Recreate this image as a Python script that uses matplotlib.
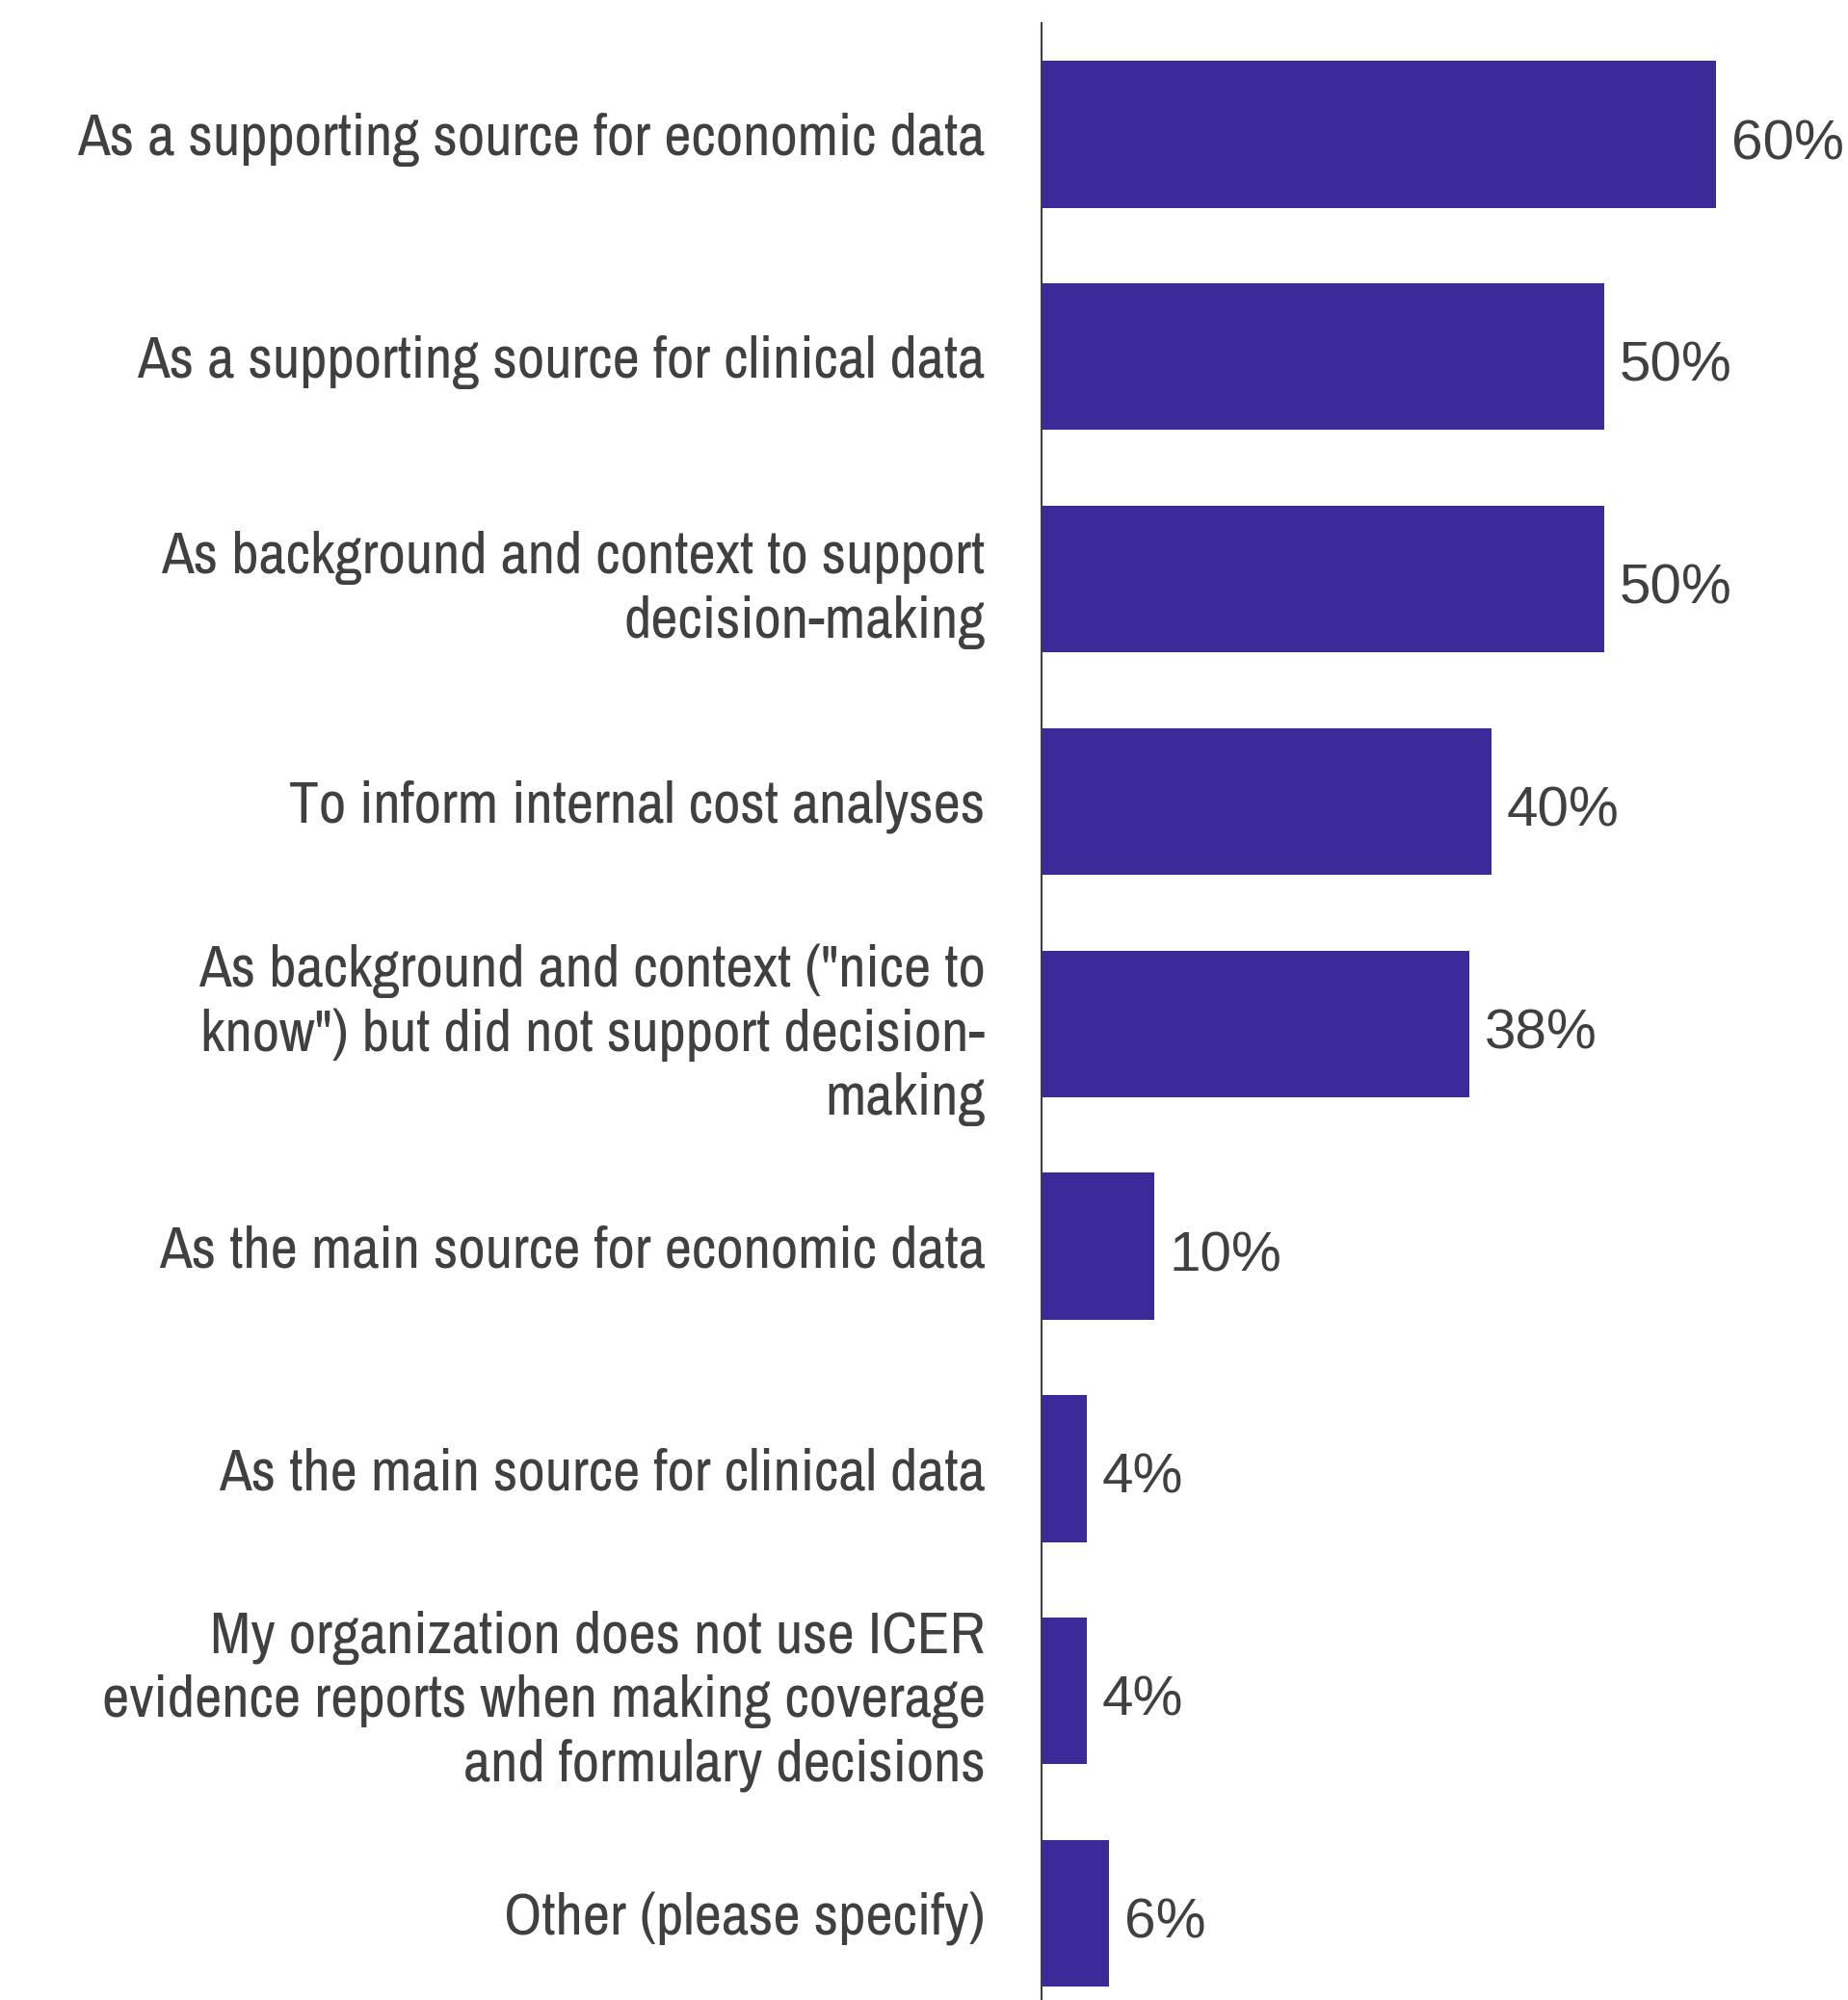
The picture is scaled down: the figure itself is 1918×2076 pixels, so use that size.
import matplotlib
matplotlib.use("Agg")
import matplotlib.pyplot as plt

# Survey responses: how ICER evidence reports are used
categories = [
    "As a supporting source for economic data",
    "As a supporting source for clinical data",
    "As background and context to support\ndecision-making",
    "To inform internal cost analyses",
    "As background and context (\"nice to\nknow\") but did not support decision-\nmaking",
    "As the main source for economic data",
    "As the main source for clinical data",
    "My organization does not use ICER\nevidence reports when making coverage\nand formulary decisions",
    "Other (please specify)",
]
values = [60, 50, 50, 40, 38, 10, 4, 4, 6]
value_labels = ["60%", "50%", "50%", "40%", "38%", "10%", "4%", "4%", "6%"]

bar_color = "#3C2A98"
text_color = "#404040"

fig = plt.figure(figsize=(19.18, 20.76), dpi=100)
ax = fig.add_axes([0.5636, 0.0, 0.4364, 0.98844])

pos = list(range(len(categories)))
ax.barh(pos, values, height=0.66, color=bar_color, edgecolor="none")

ax.set_xlim(0, 71.7)
ax.set_ylim(8.39, -0.50)

for p, v, lab in zip(pos, values, value_labels):
    ax.text(v + 1.35, p + 0.02, lab, va="center_baseline", ha="left", fontsize=42,
            color=text_color, family=["Liberation Sans", "DejaVu Sans"])

ax.set_yticks(pos)
ax.set_yticklabels(categories, fontsize=44.5, color=text_color,
                   family=["Archivo Narrow", "Liberation Sans", "DejaVu Sans"],
                   linespacing=1.24)
ax.tick_params(axis="y", length=0, pad=42)
ax.set_xticks([])

for side in ["top", "right", "bottom"]:
    ax.spines[side].set_visible(False)
ax.spines["left"].set_color(text_color)
ax.spines["left"].set_linewidth(1.5)

fig.savefig("out.png", dpi=100)
